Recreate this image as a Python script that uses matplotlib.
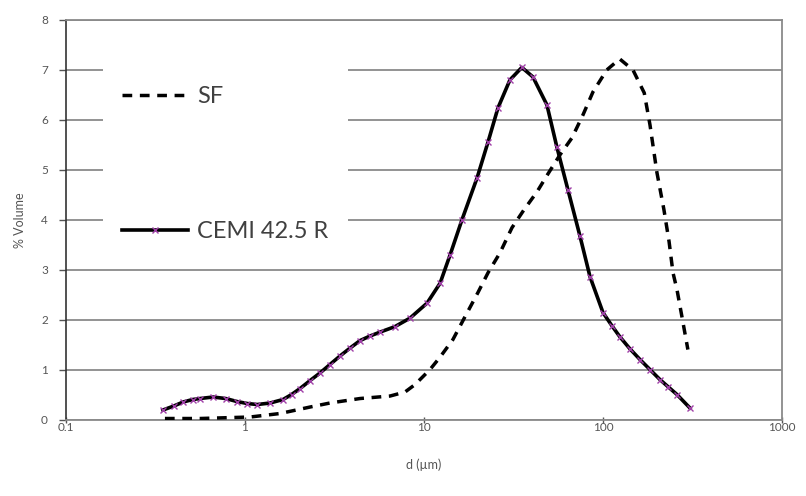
import matplotlib
matplotlib.use("Agg")
import matplotlib.pyplot as plt
from matplotlib.ticker import FixedLocator, FixedFormatter, NullLocator

plt.rcParams['font.family'] = ['Lato', 'DejaVu Sans']

# particle size distribution
sf_d = [0.357, 0.561, 1.07, 1.57, 2.31, 2.98, 4.39, 6.46, 7.83, 8.91, 10.8, 12.3,
        14.5, 16.9, 20.0, 22.8, 26.6, 31.0, 36.2, 42.8, 49.3, 57.5, 67.1, 77.3,
        87.9, 105, 124, 147, 170, 183, 200, 219, 234, 246, 259, 276, 298]
sf_vol = [0.02, 0.02, 0.05, 0.12, 0.25, 0.33, 0.42, 0.47, 0.55, 0.70, 1.00, 1.25,
          1.60, 2.05, 2.54, 2.94, 3.34, 3.84, 4.20, 4.56, 4.92, 5.30, 5.64, 6.10,
          6.56, 7.00, 7.22, 7.00, 6.54, 5.90, 4.95, 4.20, 3.56, 2.94, 2.60, 2.06, 1.40]

cem_d = [0.348, 0.40, 0.451, 0.51, 0.561, 0.662, 0.78, 0.902, 1.03, 1.17, 1.38, 1.63,
         1.82, 2.03, 2.31, 2.62, 2.98, 3.39, 3.86, 4.39, 4.98, 5.68, 6.88, 8.35, 10.4,
         12.3, 14.0, 16.3, 19.8, 22.8, 25.9, 30.2, 35.2, 40.6, 48.6, 55.3, 63.7,
         74.4, 84.6, 100, 112, 124, 141, 161, 183, 208, 232, 259, 306]
cem_vol = [0.19, 0.27, 0.35, 0.40, 0.42, 0.45, 0.42, 0.36, 0.32, 0.30, 0.33, 0.40,
           0.50, 0.62, 0.78, 0.93, 1.10, 1.27, 1.43, 1.58, 1.67, 1.75, 1.86, 2.03, 2.33,
           2.73, 3.30, 4.00, 4.84, 5.56, 6.24, 6.80, 7.05, 6.86, 6.30, 5.45, 4.60,
           3.67, 2.86, 2.14, 1.88, 1.66, 1.42, 1.20, 1.00, 0.80, 0.65, 0.50, 0.23]

x_ticks = [0.1, 1, 10, 100, 1000]
x_tick_labels = ["0.1", "1", "10", "100", "1000"]
y_ticks = [0, 1, 2, 3, 4, 5, 6, 7, 8]

fig = plt.figure(figsize=(8.06, 4.96), dpi=100)
ax = fig.add_axes([66 / 806, 1 - 419.5 / 496, 716 / 806, 399.5 / 496])

ax.plot(sf_d, sf_vol, color='black', lw=2.5, linestyle=(0, (2.8, 2.2)),
        label='SF', zorder=3)
ax.plot(cem_d, cem_vol, color='black', lw=2.6, marker='x', markersize=4.5,
        markeredgecolor='#a040a8', markeredgewidth=1.0, label='CEMI 42.5 R', zorder=4)

ax.set_xscale('log')
ax.set_xlim(0.1, 1000)
ax.set_ylim(0, 8)
ax.xaxis.set_major_locator(FixedLocator(x_ticks))
ax.xaxis.set_major_formatter(FixedFormatter(x_tick_labels))
ax.xaxis.set_minor_locator(NullLocator())
ax.set_yticks(y_ticks)

ax.grid(axis='y', color='#8a8a8a', lw=1.3)
ax.set_axisbelow(True)
for side in ['top', 'right', 'bottom']:
    ax.spines[side].set_color('#8a8a8a')
    ax.spines[side].set_linewidth(1.3)
ax.spines['left'].set_color('#333333')
ax.spines['left'].set_linewidth(1.2)

ax.tick_params(axis='both', labelsize=8.5, labelcolor='#555555', length=5,
               width=1, color='#555555')
ax.tick_params(axis='x', direction='inout', length=4, pad=0)
ax.tick_params(axis='y', pad=8)

ax.set_xlabel('d (µm)', fontsize=9, color='#555555', labelpad=18)
ax.set_ylabel('% Volume', fontsize=9, color='#555555', labelpad=11)

leg = ax.legend(loc='upper left', bbox_to_anchor=(103 / 806, 1 - 67 / 496),
                bbox_transform=fig.transFigure, borderaxespad=0, frameon=True,
                fontsize=17, handlelength=2.8, handletextpad=0.4, borderpad=0.8,
                labelspacing=4.85, numpoints=1, fancybox=False)
leg.get_frame().set_facecolor('white')
leg.get_frame().set_edgecolor('none')
leg.get_frame().set_alpha(1)
for t in leg.get_texts():
    t.set_color('#404040')

fig.savefig('out.png', dpi=100)
